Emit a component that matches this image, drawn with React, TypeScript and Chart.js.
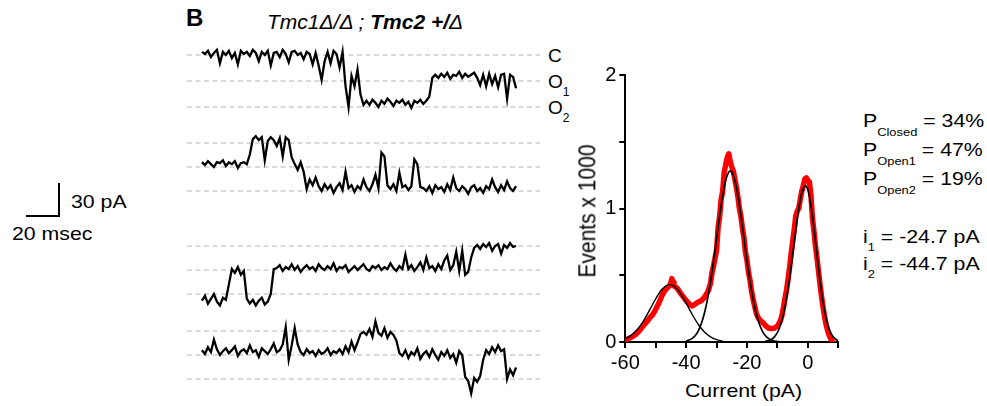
import React, { useEffect, useRef } from "react";
import { Chart, registerables } from "chart.js";
Chart.register(...registerables);

const FONT = "'Liberation Sans', Arial, Helvetica, sans-serif";

// ---------- single-channel traces (pA, dashed levels at 0 / -25 / -50) ----------
const levels = [0, -25, -50];
const trace1 = [3,1,4,-2,2,5,-8,3,0,4,-3,2,-9,4,1,3,-1,5,2,-6,3,0,4,-10,2,3,-2,5,1,-7,3,4,0,2,-4,3,1,-9,2,
  -10,-24,-6,
  3,-8,4,1,-12,3,
  -30,-50,
  -20,-30,-14,
  -38,-48,
  -44,-48,-43,-46,-50,-44,-47,-42,-45,-49,-44,-46,-43,-48,-45,-51,-44,-46,-43,-47,-44,
  -40,-22,
  -19,-22,-18,-21,-17,-23,-19,-20,-16,-22,-18,-21,-19,-17,-22,
  -29,-19,-30,-18,-28,-20,-31,-19,-18,-42,-19,-21,-32];
const trace2 = [-20,-23,-19,-22,-25,-20,-21,-18,-24,-20,-22,-19,-26,-21,-20,-22,
  -12,4,7,3,6,-18,2,6,3,-3,5,-14,6,3,-15,-22,-28,-20,-30,-48,-38,-44,-36,
  -45,-50,-43,-48,-44,-52,-46,-42,-49,-30,-47,-44,-51,-45,-48,-38,-46,-50,-43,-33,-47,
  -10,-14,-44,
  -48,-43,-50,-31,-46,-44,-49,-45,
  -17,-22,-46,
  -47,-50,-45,-52,-44,-48,-46,-51,-43,-49,-36,-47,-50,-45,-48,-53,-46,-44,-50,-47,-52,-45,-48,-38,-46,-51,-44,-49,-40,-47,-50,-45];
const trace3 = [-57,-52,-60,-55,-50,-58,-62,-54,-56,
  -40,-24,-28,-22,-30,-26,-55,-60,-56,-62,-57,-54,-61,-58,-50,-24,
  -23,-20,-26,-22,-24,-19,-25,-21,-27,-23,-20,-24,-22,-26,-19,-23,-25,-21,-24,-18,-26,-22,-23,-20,-27,-24,-21,-25,-22,-19,-24,-26,-21,-23,-20,-25,-22,-24,-18,-23,-26,-21,-24,
  -9,
  -24,-20,-26,-22,-17,-25,
  -12,
  -23,-21,-26,-19,-24,-15,
  -10,-25,-20,-6,-26,-5,-30,-27,-12,-2,
  1,-3,2,-1,3,-5,0,2,-8,1,-2,3,-1,0];
const trace4 = [-20,-24,-17,-22,-9,-19,-25,-21,-18,-23,-20,-16,-26,-21,-19,-23,-15,-22,-20,-27,-18,-21,-24,-19,-13,-22,-20,
  -14,4,-30,-15,3,-14,
  -22,-25,-19,-23,-21,-26,-20,-24,-22,-18,-25,-21,-23,-19,-24,-16,-22,-11,-20,
  -12,-3,-1,
  -4,2,-6,10,-2,-5,3,-7,-1,-4,
  -10,-23,
  -26,-20,-28,-22,-25,-18,-29,-24,-21,-27,-19,-25,-30,-22,-26,-20,-28,-24,-33,-21,-25,
  -48,-52,-65,-49,-53,-47,
  -30,-20,-24,-17,-22,-15,-21,-19,
  -50,-40,-46,-38];

// ---------- all-points histogram (Events x 1000 vs current in pA) ----------
const histCurrent = [-60,-59.5,-59,-58,-57,-56,-55,-54,-53,-52,-51,-50,-49,-48,-47,-46,-45.5,-45,-44.7,-44.3,-44,-43,-42,-41,-40,-39,-38,-37,-36,-35,-34,-33,-32.5,-32,-31.5,-31,-30.5,-30,-29.5,-29,-28.5,-28,-27.5,-27,-26.5,-26,-25.5,-25,-24.5,-24,-23.5,-23,-22.5,-22,-21.5,-21,-20.5,-20,-19.5,-19,-18.5,-18,-17.5,-17,-16.5,-16,-15,-14,-13,-12,-11,-10,-9.5,-9,-8.5,-8,-7.5,-7,-6.5,-6,-5.5,-5,-4.5,-4,-3.5,-3,-2.5,-2,-1.5,-1,-0.5,0,0.5,1,1.5,2,2.5,3,3.5,4,4.5,5,5.5,6,6.5,7,7.5,8];
const histEvents = [0.01,0.02,0.025,0.035,0.05,0.07,0.095,0.125,0.15,0.18,0.205,0.245,0.29,0.345,0.385,0.41,0.42,0.445,0.475,0.445,0.42,0.405,0.37,0.34,0.31,0.285,0.27,0.285,0.3,0.31,0.335,0.37,0.4,0.44,0.52,0.57,0.63,0.69,0.86,0.94,1.07,1.13,1.27,1.33,1.38,1.41,1.35,1.31,1.28,1.22,1.16,1.09,1.0,0.94,0.85,0.78,0.67,0.61,0.52,0.46,0.38,0.32,0.27,0.22,0.19,0.17,0.15,0.125,0.105,0.1,0.105,0.12,0.14,0.16,0.2,0.26,0.33,0.39,0.47,0.56,0.66,0.75,0.84,0.94,0.98,1.0,1.07,1.13,1.17,1.22,1.23,1.21,1.2,1.1,0.93,0.83,0.72,0.63,0.53,0.43,0.34,0.26,0.19,0.13,0.085,0.05,0.025,0.008];

// Gaussian fit curves
const fit1Current = [-60,-58,-56,-54,-52,-50,-48,-46,-45.4,-44,-42,-40,-38,-36,-34,-32,-30,-28];
const fit1Events = [0.025,0.051,0.095,0.159,0.24,0.324,0.393,0.428,0.43,0.419,0.368,0.291,0.206,0.131,0.075,0.039,0.018,0.007];
const fit2Current = [-40,-38,-37,-36,-35,-34,-33,-32,-31,-30,-29,-28,-27,-26,-25.5,-25,-24,-23,-22,-21,-20,-19,-18,-17,-16,-15,-14,-13,-11,-9];
const fit2Events = [0.007,0.027,0.049,0.084,0.138,0.215,0.319,0.451,0.606,0.776,0.946,1.097,1.211,1.272,1.28,1.272,1.211,1.097,0.946,0.776,0.606,0.451,0.319,0.215,0.138,0.084,0.049,0.027,0.007,0.0015];
const fit3Current = [-14,-12,-11,-10,-9,-8,-7,-6,-5,-4,-3,-2,-1,-0.8,0,1,2,3,4,5,6,7,8,9,10];
const fit3Events = [0.004,0.019,0.038,0.072,0.128,0.213,0.33,0.481,0.655,0.835,0.998,1.116,1.168,1.17,1.14,1.025,0.85,0.649,0.457,0.296,0.177,0.098,0.05,0.023,0.01];

const xLabelValues = [-60, -40, -20, 0];
const yLabelValues = [0, 1, 2];

const pts = (xs: number[], ys: number[]) => xs.map((x, i) => ({ x, y: ys[i] }));

// ---------- components ----------
const X_MIN = -5;
const X_MAX = 113;

function TraceChart({ values, lineY, ppa }: { values: number[]; lineY: number; ppa: number }) {
  const ref = useRef<HTMLCanvasElement>(null);
  const H = 90;
  const W = 353;
  const top = lineY - 16;
  useEffect(() => {
    const yMax = 16 / ppa;
    const yMin = yMax - H / ppa;
    const chart = new Chart(ref.current!, {
      type: "line",
      data: {
        datasets: [
          ...levels.map((L) => ({
            data: [{ x: X_MIN, y: L }, { x: X_MAX, y: L }],
            borderColor: "#b3b3b3",
            borderWidth: 1.2,
            borderDash: [5, 3.5],
            pointRadius: 0,
            order: 2,
          })),
          {
            data: values.map((v, i) => ({ x: i, y: v })),
            borderColor: "#000",
            borderWidth: 2.3,
            borderJoinStyle: "miter",
            pointRadius: 0,
            tension: 0,
            order: 1,
          },
        ],
      },
      options: {
        animation: false,
        responsive: false,
        events: [],
        layout: { padding: 0 },
        scales: {
          x: { type: "linear", display: false, min: X_MIN, max: X_MAX },
          y: { display: false, min: yMin, max: yMax },
        },
        plugins: { legend: { display: false }, tooltip: { enabled: false } },
      },
    } as any);
    return () => chart.destroy();
  }, []);
  return (
    <canvas
      ref={ref}
      width={W}
      height={H}
      style={{ position: "absolute", left: 187, top, width: W, height: H }}
    />
  );
}

function Histogram() {
  const ref = useRef<HTMLCanvasElement>(null);
  useEffect(() => {
    const axisCommon = {
      border: { display: true, color: "#000", width: 2 },
      grid: { display: true, drawOnChartArea: false, drawTicks: true, tickLength: 6, color: "#000", lineWidth: 2 },
    };
    const chart = new Chart(ref.current!, {
      type: "line",
      data: {
        datasets: [
          { data: pts(histCurrent, histEvents), borderColor: "#ff0000", borderWidth: 5.5, pointRadius: 0, tension: 0, borderJoinStyle: "round", borderCapStyle: "round", order: 3 },
          { data: pts(fit1Current, fit1Events), borderColor: "#000", borderWidth: 1.4, pointRadius: 0, cubicInterpolationMode: "monotone", order: 1 },
          { data: pts(fit2Current, fit2Events), borderColor: "#000", borderWidth: 1.7, pointRadius: 0, cubicInterpolationMode: "monotone", order: 1 },
          { data: pts(fit3Current, fit3Events), borderColor: "#000", borderWidth: 1.7, pointRadius: 0, cubicInterpolationMode: "monotone", order: 1 },
        ],
      },
      options: {
        animation: false,
        responsive: false,
        events: [],
        layout: { padding: { left: 0, top: 15, right: 21.7, bottom: 0 } },
        scales: {
          x: {
            type: "linear",
            min: -60,
            max: 10,
            ...axisCommon,
            ticks: {
              stepSize: 10,
              autoSkip: false,
              maxRotation: 0,
              color: "#000",
              padding: 3,
              font: { family: FONT, size: 20 },
              callback: (v: any) => (xLabelValues.includes(Number(v)) ? String(v) : ""),
            },
            afterFit: (s: any) => { s.height = 38; },
          },
          y: {
            min: 0,
            max: 2,
            ...axisCommon,
            ticks: {
              stepSize: 0.5,
              autoSkip: false,
              color: "#000",
              padding: 3,
              font: { family: FONT, size: 20 },
              callback: (v: any) => (yLabelValues.includes(Number(v)) ? String(v) : ""),
            },
            afterFit: (s: any) => { s.width = 65.3; },
          },
        },
        plugins: { legend: { display: false }, tooltip: { enabled: false } },
      },
    } as any);
    return () => chart.destroy();
  }, []);
  return (
    <canvas ref={ref} width={300} height={320} style={{ position: "absolute", left: 560, top: 60, width: 300, height: 320 }} />
  );
}

function Txt({ x, base, size = 19, sx = 1.12, style, children }: any) {
  return (
    <div
      style={{
        position: "absolute",
        left: x,
        top: base - 0.85 * size,
        fontSize: size,
        lineHeight: `${size}px`,
        fontFamily: FONT,
        whiteSpace: "nowrap",
        transform: `scaleX(${sx})`,
        transformOrigin: "left top",
        color: "#000",
        ...style,
      }}
    >
      {children}
    </div>
  );
}

function Sub({ children, dy = 9, size = 11.5 }: any) {
  return <span style={{ fontSize: size, position: "relative", top: dy, lineHeight: 0 }}>{children}</span>;
}

export default function App() {
  return (
    <div style={{ position: "fixed", left: 0, top: 0, width: 987, height: 406, background: "#fff", overflow: "hidden", fontFamily: FONT }}>
      {/* panel label and title */}
      <Txt x={186} base={26} size={24} sx={1} style={{ fontWeight: "bold" }}>B</Txt>
      <Txt x={266.7} base={29.3} size={20} sx={1.05} style={{ fontStyle: "italic" }}>
        Tmc1Δ/Δ ; <b>Tmc2 +/</b>Δ
      </Txt>

      {/* traces */}
      <TraceChart values={trace1} lineY={55} ppa={1.04} />
      <TraceChart values={trace2} lineY={143} ppa={0.96} />
      <TraceChart values={trace3} lineY={245.5} ppa={0.96} />
      <TraceChart values={trace4} lineY={331} ppa={0.96} />

      {/* level labels */}
      <Txt x={548} base={62} size={19} sx={1}>C</Txt>
      <Txt x={548} base={88.3} size={19} sx={1}>O<Sub dy={8} size={12}>1</Sub></Txt>
      <Txt x={548} base={114.5} size={19} sx={1}>O<Sub dy={8} size={12}>2</Sub></Txt>

      {/* scale bar */}
      <div style={{ position: "absolute", left: 58.3, top: 183, width: 2, height: 33, background: "#000" }} />
      <div style={{ position: "absolute", left: 26, top: 214.7, width: 34.3, height: 2, background: "#000" }} />
      <Txt x={71} base={208} size={19}>30 pA</Txt>
      <Txt x={12} base={240} size={19}>20 msec</Txt>

      {/* histogram */}
      <Histogram />
      <div
        style={{
          position: "absolute",
          left: 587,
          top: 211,
          fontSize: 21,
          lineHeight: "21px",
          fontFamily: FONT,
          whiteSpace: "nowrap",
          transform: "translate(-50%, -50%) rotate(-90deg) scaleY(1.1)",
          color: "#000",
        }}
      >
        Events x 1000
      </div>
      <Txt x={685} base={396.7} size={19}>Current (pA)</Txt>

      {/* statistics */}
      <Txt x={862.7} base={127} size={19}>P<Sub>Closed</Sub> = 34%</Txt>
      <Txt x={862.7} base={156} size={19}>P<Sub>Open1</Sub> = 47%</Txt>
      <Txt x={862.7} base={185} size={19}>P<Sub>Open2</Sub> = 19%</Txt>
      <Txt x={862.7} base={243.3} size={19}>i<Sub dy={8}>1</Sub> = -24.7 pA</Txt>
      <Txt x={862.7} base={270} size={19}>i<Sub dy={8}>2</Sub> = -44.7 pA</Txt>
    </div>
  );
}
